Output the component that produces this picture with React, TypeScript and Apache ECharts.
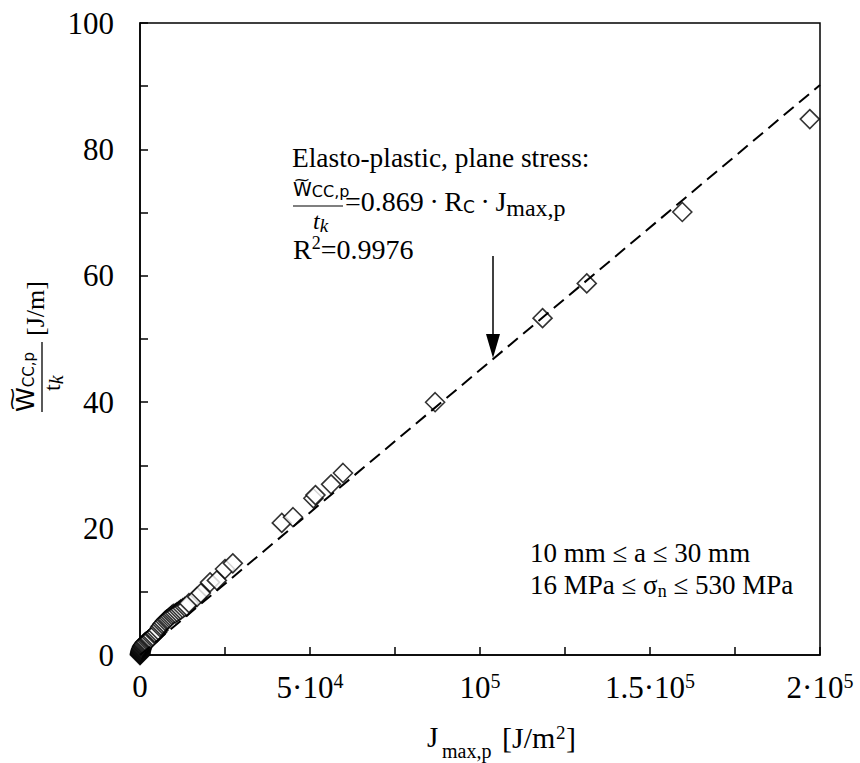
import { useEffect, useRef } from 'react';
import * as echarts from 'echarts';

// J_max,p [J/m^2]  (ascending, as plotted)
const J_MAX = [
  0, 20, 40, 60, 90, 120, 160, 200, 250, 300, 360, 430, 500, 600, 700, 800, 950,
  1100, 1300, 1500, 1800, 2200, 2500, 2800, 3000, 3500, 3800, 4300, 4600, 5000,
  5400, 5900, 6200, 6600, 7000, 7400, 7800, 8200, 8600, 9000, 9400, 9800, 10400,
  10900, 11500, 12000, 12600, 13200, 13800, 14400, 16800, 17900, 20600, 22600,
  25000, 27300, 41700, 45000, 51000, 51600, 56200, 59700, 86800, 118400, 131400,
  159500, 197000,
];
// W_CC,p / t_k [J/m]
const W_CC = [
  0, 0.1, 0.15, 0.2, 0.3, 0.4, 0.5, 0.6, 0.7, 0.8, 0.9, 1.0, 1.1, 1.25, 1.35, 1.45, 1.6,
  1.7, 1.85, 2.0, 2.1, 2.25, 2.4, 2.5, 2.6, 2.8, 3.0, 3.3, 3.4, 3.6,
  3.9, 4.4, 4.6, 4.9, 5.1, 5.4, 5.6, 5.7, 5.9, 6.1, 6.3, 6.5, 6.6,
  6.8, 7.0, 7.2, 7.4, 7.6, 7.7, 8.2, 9.2, 9.8, 11.5, 11.8,
  13.6, 14.5, 20.9, 21.8, 24.8, 25.3, 27.0, 28.8, 40.0, 53.3, 58.8,
  70.1, 84.8,
];
// fitted dashed line end points
const FIT_X = [0, 200000];
const FIT_Y = [0, 90.2];

const X_TICK_MANT = ['0', '5·10', '10', '1.5·10', '2·10'];
const X_TICK_EXP = ['', '4', '5', '5', '5'];
const Y_TICK_LABELS = ['0', '20', '40', '60', '80', '100'];

const SERIF = "'Liberation Serif', 'Times New Roman', serif";
const SANS = "'DejaVu Sans', sans-serif";

function txt(x: number, y: number, text: string, fontSize: number, extra: any = {}, rich?: any) {
  return {
    type: 'text',
    x,
    y,
    silent: true,
    style: {
      text,
      fontSize,
      fontFamily: SERIF,
      fill: '#000',
      align: 'left',
      textAlign: 'left',
      verticalAlign: 'middle',
      textVerticalAlign: 'middle',
      rich,
      ...extra,
    },
  };
}

export default function App() {
  const ref = useRef<HTMLDivElement>(null);
  useEffect(() => {
    if (!ref.current) return;
    document.body.style.margin = '0';
    const chart = echarts.init(ref.current, null, { renderer: 'svg' });
    const scatterData = J_MAX.map((x, i) => [x, W_CC[i]]);
    const fitData = FIT_X.map((x, i) => [x, FIT_Y[i]]);

    const numRich = (wSize: number, sSize: number, shift: number) => ({
      w: { fontSize: wSize, fontFamily: SANS },
      s: { fontSize: sSize, fontFamily: SANS, padding: [shift, 0, 0, 0] },
    });
    const dot = '\u2009·\u2009';

    const option: any = {
      animation: false,
      backgroundColor: '#fff',
      grid: {
        left: 140,
        right: 40,
        top: 23,
        bottom: 108,
        show: true,
        borderColor: '#000',
        borderWidth: 1.5,
        backgroundColor: 'transparent',
      },
      xAxis: {
        type: 'value',
        min: 0,
        max: 200000,
        interval: 25000,
        axisLine: { show: true, lineStyle: { color: '#000', width: 1.5 } },
        axisTick: { show: true, inside: true, length: 8, lineStyle: { color: '#000', width: 1.5 } },
        splitLine: { show: false },
        axisLabel: {
          margin: 16,
          hideOverlap: false,
          formatter: (v: number) => {
            if (v % 50000 !== 0) return '';
            const i = v / 50000;
            const e = X_TICK_EXP[i];
            return e ? `{b|${X_TICK_MANT[i]}}{s|${e}}` : `{b|${X_TICK_MANT[i]}}`;
          },
          rich: {
            b: { fontSize: 31, fontFamily: SERIF, color: '#000' },
            s: { fontSize: 20, fontFamily: SERIF, color: '#000', padding: [0, 0, 12, 0] },
          },
        },
      },
      yAxis: {
        type: 'value',
        min: 0,
        max: 100,
        interval: 10,
        axisLine: { show: true, lineStyle: { color: '#000', width: 1.5 } },
        axisTick: { show: true, inside: true, length: 8, lineStyle: { color: '#000', width: 1.5 } },
        splitLine: { show: false },
        axisLabel: {
          margin: 26,
          fontSize: 31,
          fontFamily: SERIF,
          color: '#000',
          formatter: (v: number) => (v % 20 === 0 ? Y_TICK_LABELS[v / 20] : ''),
        },
      },
      series: [
        {
          type: 'scatter',
          data: scatterData,
          symbol: 'diamond',
          symbolSize: 19,
          clip: false,
          z: 2,
          itemStyle: { color: '#fff', borderColor: '#000', borderWidth: 1.6 },
        },
        {
          type: 'line',
          data: fitData,
          showSymbol: false,
          z: 3,
          lineStyle: { color: '#000', width: 2, type: [13, 7] },
        },
      ],
      graphic: [
        // annotation
        txt(292, 158, 'Elasto-plastic, plane stress:', 27.4),
        txt(293, 189, '{w|W}{s|CC,p}', 19, {}, numRich(19, 16, 4)),
        { type: 'text', x: 302, y: 179, silent: true, scaleX: 1.3,
          style: { text: '~', fontSize: 16, fontFamily: SANS, fill: '#000', align: 'center', textAlign: 'center', verticalAlign: 'middle', textVerticalAlign: 'middle' } },
        { type: 'line', silent: true, shape: { x1: 293, y1: 206, x2: 343, y2: 206 }, style: { stroke: '#000', lineWidth: 1.2 } },
        txt(313, 221, '{t|t}{k|k}', 24, {}, {
          t: { fontSize: 24, fontFamily: SERIF, fontStyle: 'italic' },
          k: { fontSize: 19, fontFamily: SERIF, fontStyle: 'italic', padding: [8, 0, 0, 0] },
        }),
        txt(345, 201, `{m|=0.869${dot}R}{cs|C}{m|${dot}J}{ms|max,p}`, 28, {}, {
          m: { fontSize: 28, fontFamily: SERIF },
          cs: { fontSize: 17, fontFamily: SANS, padding: [12, 0, 0, 0] },
          ms: { fontSize: 24, fontFamily: SERIF, padding: [14, 0, 0, 0] },
        }),
        txt(293, 249, '{m|R}{p|2}{m|=0.9976}', 28, {}, {
          m: { fontSize: 28, fontFamily: SERIF },
          p: { fontSize: 18, fontFamily: SERIF, padding: [0, 0, 12, 0] },
        }),
        // arrow
        { type: 'line', silent: true, shape: { x1: 493, y1: 256, x2: 493, y2: 340 }, style: { stroke: '#000', lineWidth: 1.5 } },
        { type: 'polygon', silent: true, shape: { points: [[486, 334], [500, 334], [493, 358]] }, style: { fill: '#000' } },
        // ranges
        txt(530, 553, '10 mm ≤ a ≤ 30 mm', 27),
        txt(530, 585, '{m|16 MPa ≤ σ}{n|n}{m| ≤ 530 MPa}', 27, {}, {
          m: { fontSize: 27, fontFamily: SERIF },
          n: { fontSize: 18, fontFamily: SERIF, padding: [12, 0, 0, 0] },
        }),
        // x axis name
        txt(427, 737, 'J', 29),
        txt(442, 751, 'max,p', 20),
        txt(502, 737, '[J/m', 30),
        txt(556, 732, '2', 19),
        txt(566, 737, ']', 30),
        // y axis name (rotated)
        {
          type: 'group',
          x: 40,
          y: 412,
          rotation: Math.PI / 2,
          silent: true,
          children: [
            txt(0, -15, '{w|W}{s|CC,p}', 25, {}, numRich(25, 15, 8)),
            { type: 'text', x: 13, y: -28, scaleX: 1.6,
              style: { text: '~', fontSize: 20, fontFamily: SANS, fill: '#000', align: 'center', textAlign: 'center', verticalAlign: 'middle', textVerticalAlign: 'middle' } },
            { type: 'line', shape: { x1: 0, y1: 2, x2: 70, y2: 2 }, style: { stroke: '#000', lineWidth: 1.3 } },
            txt(21, 12, '{t|t}{k|k}', 24, {}, {
              t: { fontSize: 24, fontFamily: SERIF },
              k: { fontSize: 20, fontFamily: SERIF, fontStyle: 'italic', padding: [8, 0, 0, 0] },
            }),
            txt(76, -5, '[J/m]', 26),
          ],
        },
      ],
    };
    chart.setOption(option);
    return () => chart.dispose();
  }, []);
  return <div ref={ref} style={{ width: 860, height: 763 }} />;
}
